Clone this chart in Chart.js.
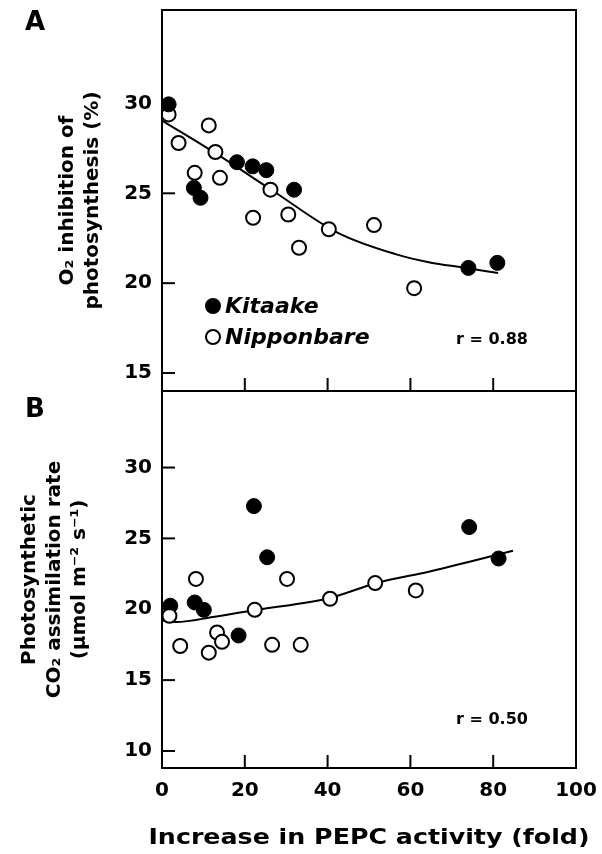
<!DOCTYPE html>
<html>
<head>
<meta charset="utf-8">
<script src="https://cdn.jsdelivr.net/npm/chart.js@4.4.1/dist/chart.umd.min.js"></script>
<style>
  body { margin: 0; background: #fff; }
  #wrap { position: relative; width: 602px; height: 854px; }
  canvas { position: absolute; left: 0; }
  #graphA { top: 0; }
  #graphB { top: 391px; }
</style>
</head>
<body>
<div id="wrap">
  <canvas id="graphA" width="602" height="392"></canvas>
  <canvas id="graphB" width="602" height="463"></canvas>
</div>
<script>
// panel A - O2 inhibition of photosynthesis (%)
var kitaakeAX = [1.6, 7.7, 9.3, 18.1, 21.9, 25.2, 31.9, 74.0, 81.0];
var kitaakeAY = [29.95, 25.3, 24.75, 26.73, 26.5, 26.29, 25.2, 20.85, 21.13];
var nipponAX = [1.6, 4.0, 11.3, 12.9, 7.9, 14.0, 26.2, 22.0, 30.5, 33.1, 40.3, 51.2, 60.9];
var nipponAY = [29.39, 27.8, 28.78, 27.3, 26.14, 25.86, 25.2, 23.64, 23.82, 21.97, 23.0, 23.23, 19.72];
var fitAX = [0, 12.7, 26.4, 42.5, 56.6, 64.7, 72.7, 81.2];
var fitAY = [29.05, 27.26, 25.2, 22.8, 21.6, 21.15, 20.87, 20.56];

// panel B - photosynthetic CO2 assimilation rate
var kitaakeBX = [2.0, 7.9, 10.1, 18.5, 22.2, 25.4, 74.2, 81.3];
var kitaakeBY = [20.25, 20.48, 19.96, 18.15, 27.28, 23.67, 25.8, 23.58];
var nipponBX = [1.8, 4.4, 8.2, 11.3, 13.3, 14.5, 22.4, 26.6, 30.2, 33.5, 40.6, 51.5, 61.3];
var nipponBY = [19.54, 17.41, 22.14, 16.94, 18.36, 17.7, 19.96, 17.49, 22.14, 17.49, 20.74, 21.85, 21.33];
var fitBX = [0, 3.5, 12.3, 22.8, 40.6, 51.8, 64.7, 84.8];
var fitBY = [19.2, 19.1, 19.45, 19.96, 20.8, 21.85, 22.67, 24.13];

var xTicks = [0, 20, 40, 60, 80, 100];
var yTicksA = [15, 20, 25, 30];
var yTicksB = [10, 15, 20, 25, 30];
var rA = 'r = 0.88';
var rB = 'r = 0.50';
var xTitle = 'Increase in PEPC activity (fold)';

function pts(xs, ys) {
  return xs.map(function (x, i) { return { x: x, y: ys[i] }; });
}

var font = 'DejaVu Sans';

// box around the plot area, inward tick marks, panel letter, r value, legend
const framePlugin = {
  id: 'frame',
  afterDraw(chart, args, opts) {
    const ctx = chart.ctx;
    const a = chart.chartArea;
    ctx.save();
    ctx.strokeStyle = '#000';
    ctx.lineWidth = 2;
    ctx.strokeRect(a.left, a.top, a.right - a.left, a.bottom - a.top);

    const ys = chart.scales.y;
    ys.ticks.forEach(function (t) {
      const py = ys.getPixelForValue(t.value);
      ctx.beginPath();
      ctx.moveTo(a.left, py);
      ctx.lineTo(a.left + 13, py);
      ctx.stroke();
    });
    const xs = chart.scales.x;
    xs.ticks.forEach(function (t) {
      if (t.value <= xs.min || t.value >= xs.max) return;
      const px = xs.getPixelForValue(t.value);
      ctx.beginPath();
      ctx.moveTo(px, a.bottom);
      ctx.lineTo(px, a.bottom - 13);
      ctx.stroke();
    });

    ctx.fillStyle = '#000';
    ctx.font = 'bold 26px "' + font + '"';
    ctx.textAlign = 'center';
    ctx.textBaseline = 'middle';
    ctx.fillText(opts.letter, 35, opts.letterY);

    ctx.font = 'bold 16px "' + font + '"';
    ctx.fillText(opts.r, a.right - 84, a.bottom - opts.rOff);

    if (opts.xTitle) {
      // the original lettering is wider than any installed font, so stretch it
      ctx.save();
      ctx.translate((a.left + a.right) / 2, chart.height - 16);
      ctx.scale(1.15, 1);
      ctx.font = 'bold 22px "' + font + '"';
      ctx.fillText(opts.xTitle, 0, 0);
      ctx.restore();
    }

    if (opts.legend) {
      const items = [
        { label: 'Kitaake', fill: '#000' },
        { label: 'Nipponbare', fill: '#fff' }
      ];
      items.forEach(function (it, i) {
        const cy = a.top + 296 + i * 31;
        ctx.beginPath();
        ctx.arc(a.left + 51, cy, 7, 0, Math.PI * 2);
        ctx.fillStyle = it.fill;
        ctx.fill();
        ctx.lineWidth = 2;
        ctx.stroke();
        ctx.fillStyle = '#000';
        ctx.textAlign = 'left';
        ctx.font = 'italic bold 22px "' + font + '"';
        ctx.fillText(it.label, a.left + 63, cy + 1);
      });
    }
    ctx.restore();
  }
};

function noPad(s) {
  s.paddingTop = 0;
  s.paddingBottom = 0;
  s.paddingLeft = 0;
  s.paddingRight = 0;
}

function makeChart(id, d, o) {
  return new Chart(document.getElementById(id), {
    type: 'scatter',
    data: {
      datasets: [
        {
          label: 'Kitaake',
          data: pts(d.kx, d.ky),
          backgroundColor: '#000',
          borderColor: '#000',
          borderWidth: 1,
          pointRadius: 7.5,
          order: o.kitaakeOrder
        },
        {
          label: 'Nipponbare',
          data: pts(d.nx, d.ny),
          backgroundColor: '#fff',
          borderColor: '#000',
          borderWidth: 2,
          pointRadius: 7,
          order: o.nipponOrder
        },
        {
          label: 'fit',
          data: pts(d.fx, d.fy),
          showLine: true,
          cubicInterpolationMode: 'monotone',
          borderColor: '#000',
          borderWidth: 2,
          pointRadius: 0,
          order: 5
        }
      ]
    },
    options: {
      responsive: false,
      animation: false,
      events: [],
      layout: { autoPadding: false, padding: { top: o.padTop, right: 26, left: 0, bottom: 0 } },
      plugins: {
        legend: { display: false },
        tooltip: { enabled: false },
        frame: o.frame
      },
      scales: {
        x: {
          type: 'linear',
          min: 0,
          max: 100,
          grid: { display: false, drawTicks: false },
          border: { display: false },
          afterBuildTicks: function (s) { s.ticks = xTicks.map(function (v) { return { value: v }; }); },
          afterFit: function (s) { s.height = o.xHeight; noPad(s); },
          ticks: {
            display: o.xLabels,
            padding: 11,
            color: '#000',
            font: { family: font, weight: 'bold', size: 20 }
          }
        },
        y: {
          type: 'linear',
          min: o.ymin,
          max: o.ymax,
          grid: { display: false, drawTicks: false },
          border: { display: false },
          afterBuildTicks: function (s) { s.ticks = o.yTicks.map(function (v) { return { value: v }; }); },
          afterFit: function (s) { s.width = 162; noPad(s); },
          ticks: {
            padding: 10,
            color: '#000',
            font: { family: font, weight: 'bold', size: 20 }
          },
          title: {
            display: true,
            text: o.yTitle,
            color: '#000',
            padding: { top: o.titlePad, bottom: 0 },
            font: { family: font, weight: 'bold', size: 20, lineHeight: 1.25 }
          }
        }
      }
    },
    plugins: [framePlugin]
  });
}

var chartA = makeChart('graphA',
  { kx: kitaakeAX, ky: kitaakeAY, nx: nipponAX, ny: nipponAY, fx: fitAX, fy: fitAY },
  {
    kitaakeOrder: 0, nipponOrder: 1,
    padTop: 10, xHeight: 1, xLabels: false,
    ymin: 14, ymax: 35.2, yTicks: yTicksA,
    yTitle: ['O\u2082 inhibition of', 'photosynthesis (%)'], titlePad: 55,
    frame: { letter: 'A', letterY: 23, r: rA, rOff: 51, legend: true }
  });

var chartB = makeChart('graphB',
  { kx: kitaakeBX, ky: kitaakeBY, nx: nipponBX, ny: nipponBY, fx: fitBX, fy: fitBY },
  {
    kitaakeOrder: 1, nipponOrder: 0,
    padTop: 0, xHeight: 86, xLabels: true,
    ymin: 8.8, ymax: 35.4, yTicks: yTicksB,
    yTitle: ['Photosynthetic', 'CO\u2082 assimilation rate', '(\u03bcmol m\u207b\u00b2 s\u207b\u00b9)'], titlePad: 17.5,
    frame: { letter: 'B', letterY: 19, r: rB, rOff: 48, legend: false, xTitle: xTitle }
  });
</script>
</body>
</html>
